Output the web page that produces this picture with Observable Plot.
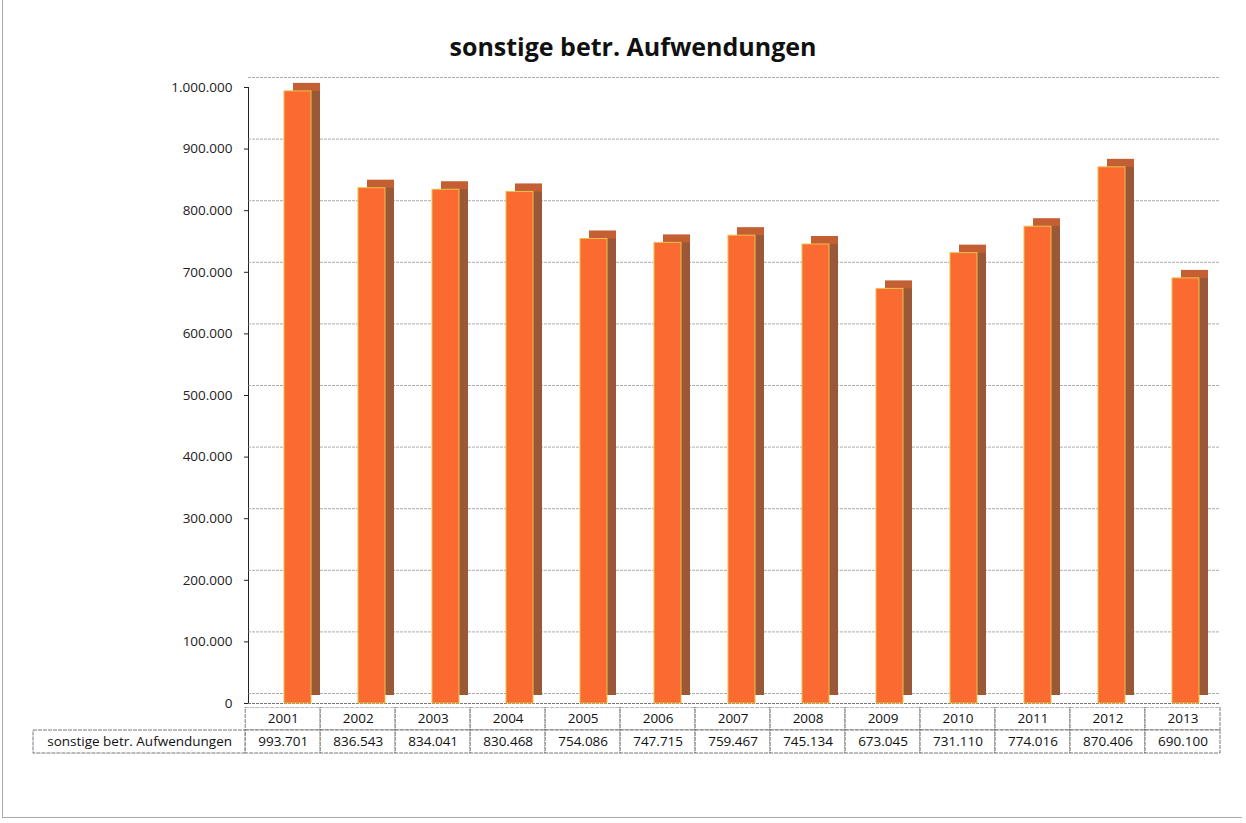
<!DOCTYPE html>
<html>
<head>
<meta charset="utf-8">
<script src="https://cdn.jsdelivr.net/npm/d3@7"></script>
<script src="https://cdn.jsdelivr.net/npm/@observablehq/plot@0.6"></script>
<style>
  html, body { margin: 0; padding: 0; background: #fff; }
  #frame { position: absolute; left: 2px; top: 0px; width: 1240px; height: 818px; border-left: 1px solid #aaa; border-bottom: 1px solid #aaa; box-sizing: border-box; }
  #title { position: absolute; left: 0; top: 29px; width: 1266px; text-align: center; font-family: "Open Sans", sans-serif; font-weight: bold; font-size: 25px; color: #111; }
  #chart { position: absolute; left: 0; top: 70px; }
  #table { position: absolute; left: 0; top: 707px; }
</style>
</head>
<body>
<div id="frame"></div>
<div id="title">sonstige betr. Aufwendungen</div>
<div id="chart"></div>
<div id="table"></div>
<script>
const seriesName = "sonstige betr. Aufwendungen";
const years = ["2001","2002","2003","2004","2005","2006","2007","2008","2009","2010","2011","2012","2013"];
const values = [993701, 836543, 834041, 830468, 754086, 747715, 759467, 745134, 673045, 731110, 774016, 870406, 690100];
const yTicks = [0, 100000, 200000, 300000, 400000, 500000, 600000, 700000, 800000, 900000, 1000000];

const de = v => d3.format(",")(v).replace(/,/g, ".");
const data = years.map((y, i) => ({year: y, value: values[i]}));
const font = "Open Sans, sans-serif";

const chart = Plot.plot({
  width: 1246,
  height: 647,
  marginLeft: 248,
  marginRight: 26,
  marginTop: 17,
  marginBottom: 14,
  style: {fontFamily: font, fontSize: "13.5px", color: "#222", background: "transparent"},
  x: {domain: years, paddingInner: 0.63, paddingOuter: 0.315, axis: null},
  y: {domain: [0, 1000000], ticks: yTicks, tickFormat: de, tickSize: 4, tickPadding: 12, label: null, line: true},
  marks: [
    Plot.gridY(yTicks, {stroke: "#8a8a8a", strokeOpacity: 0.7, dy: -10, strokeDasharray: "3,1"}),
    Plot.ruleY([0], {stroke: "#777", strokeDasharray: "3,1"}),
    Plot.barY(data, {x: "year", y: "value", fill: "#c45f33", dx: 17, dy: -8}),
    Plot.barY(data, {x: "year", y: "value", fill: "#9a5836", dx: 17, dy: -8, insetTop: 8}),
    Plot.barY(data, {x: "year", y: "value", fill: "#fb6a30", stroke: "#e9c24a", strokeWidth: 1, dx: 8})
  ]
});
document.getElementById("chart").append(chart);

const labelCols = 2.83;
const cells = [
  ...years.map((y, i) => ({x1: i, x2: i + 1, row: "year", label: y})),
  {x1: -labelCols, x2: 0, row: "value", label: seriesName},
  ...years.map((y, i) => ({x1: i, x2: i + 1, row: "value", label: de(values[i])}))
];

const table = Plot.plot({
  width: 1246,
  height: 47,
  marginLeft: 33,
  marginRight: 26,
  marginTop: 0,
  marginBottom: 1,
  style: {fontFamily: font, fontSize: "13px", color: "#111", background: "transparent"},
  x: {domain: [-labelCols, years.length], axis: null},
  y: {domain: ["year", "value"], padding: 0, axis: null},
  marks: [
    Plot.barX(cells, {x1: "x1", x2: "x2", y: "row", fill: "white", stroke: "#555", strokeWidth: 0.8, strokeDasharray: "4,1"}),
    Plot.text(cells, {x: d => (d.x1 + d.x2) / 2, y: "row", text: "label", fontSize: 13.5, fill: "#111"})
  ]
});
document.getElementById("table").append(table);
</script>
</body>
</html>
